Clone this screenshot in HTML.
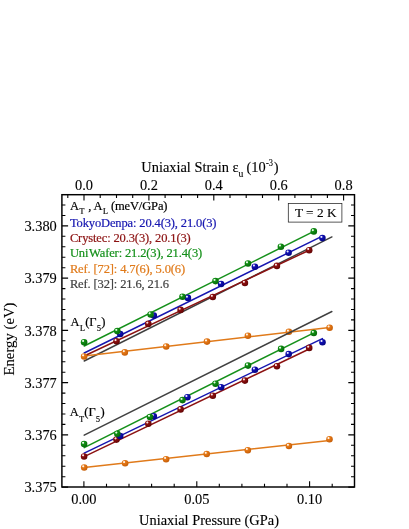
<!DOCTYPE html>
<html><head><meta charset="utf-8"><title>chart</title>
<style>
html,body{margin:0;padding:0;background:#fff;}
svg{display:block;will-change:transform;}
text{font-family:"Liberation Serif",serif;fill:#000;stroke:#000;stroke-width:0.12px;}
.lg{letter-spacing:-0.13px;stroke-width:0.2px;}
</style></head><body>
<svg width="409" height="529" viewBox="0 0 409 529">
<defs>
<radialGradient id="ggreen" cx="0.38" cy="0.36" r="0.68" fx="0.34" fy="0.30"><stop offset="0" stop-color="#e8f8e8"/><stop offset="0.12" stop-color="#e8f8e8"/><stop offset="0.32" stop-color="#109014"/><stop offset="1" stop-color="#056608"/></radialGradient>
<radialGradient id="gblue" cx="0.38" cy="0.36" r="0.68" fx="0.34" fy="0.30"><stop offset="0" stop-color="#e8e8fc"/><stop offset="0.12" stop-color="#e8e8fc"/><stop offset="0.32" stop-color="#1010b4"/><stop offset="1" stop-color="#030380"/></radialGradient>
<radialGradient id="gred" cx="0.38" cy="0.36" r="0.68" fx="0.34" fy="0.30"><stop offset="0" stop-color="#f8e4e4"/><stop offset="0.12" stop-color="#f8e4e4"/><stop offset="0.32" stop-color="#8e1010"/><stop offset="1" stop-color="#600303"/></radialGradient>
<radialGradient id="gorange" cx="0.38" cy="0.36" r="0.68" fx="0.34" fy="0.30"><stop offset="0" stop-color="#fff2e4"/><stop offset="0.12" stop-color="#fff2e4"/><stop offset="0.32" stop-color="#e67a18"/><stop offset="1" stop-color="#c45c06"/></radialGradient>
</defs>
<rect width="409" height="529" fill="#fff"/>
<line x1="84.2" y1="361.0" x2="331.9" y2="236.9" stroke="#404040" stroke-width="1.45" stroke-linecap="round"/>
<line x1="84.2" y1="356.0" x2="329.6" y2="327.5" stroke="#e07a1a" stroke-width="1.5" stroke-linecap="round"/>
<line x1="84.2" y1="356.0" x2="309.2" y2="250.2" stroke="#8c1212" stroke-width="1.5" stroke-linecap="round"/>
<line x1="84.2" y1="353.0" x2="322.4" y2="236.1" stroke="#1616b0" stroke-width="1.5" stroke-linecap="round"/>
<line x1="84.2" y1="346.0" x2="313.8" y2="231.4" stroke="#14901a" stroke-width="1.5" stroke-linecap="round"/>
<circle cx="84.1" cy="356.5" r="3.3" fill="url(#gorange)"/>
<circle cx="124.8" cy="352.4" r="3.3" fill="url(#gorange)"/>
<circle cx="166.2" cy="346.5" r="3.3" fill="url(#gorange)"/>
<circle cx="207.0" cy="341.6" r="3.3" fill="url(#gorange)"/>
<circle cx="247.9" cy="335.7" r="3.3" fill="url(#gorange)"/>
<circle cx="288.9" cy="331.8" r="3.3" fill="url(#gorange)"/>
<circle cx="329.6" cy="327.7" r="3.3" fill="url(#gorange)"/>
<circle cx="116.5" cy="341.3" r="3.3" fill="url(#gred)"/>
<circle cx="148.3" cy="323.9" r="3.3" fill="url(#gred)"/>
<circle cx="180.6" cy="309.9" r="3.3" fill="url(#gred)"/>
<circle cx="212.8" cy="297.0" r="3.3" fill="url(#gred)"/>
<circle cx="244.9" cy="283.0" r="3.3" fill="url(#gred)"/>
<circle cx="276.9" cy="265.9" r="3.3" fill="url(#gred)"/>
<circle cx="309.2" cy="250.2" r="3.3" fill="url(#gred)"/>
<circle cx="120.2" cy="334.0" r="3.3" fill="url(#gblue)"/>
<circle cx="153.8" cy="315.6" r="3.3" fill="url(#gblue)"/>
<circle cx="187.9" cy="297.9" r="3.3" fill="url(#gblue)"/>
<circle cx="221.1" cy="284.0" r="3.3" fill="url(#gblue)"/>
<circle cx="254.9" cy="266.7" r="3.3" fill="url(#gblue)"/>
<circle cx="288.6" cy="252.7" r="3.3" fill="url(#gblue)"/>
<circle cx="322.4" cy="238.1" r="3.3" fill="url(#gblue)"/>
<circle cx="84.1" cy="342.2" r="3.3" fill="url(#ggreen)"/>
<circle cx="117.3" cy="331.1" r="3.3" fill="url(#ggreen)"/>
<circle cx="150.6" cy="314.5" r="3.3" fill="url(#ggreen)"/>
<circle cx="182.5" cy="296.7" r="3.3" fill="url(#ggreen)"/>
<circle cx="215.5" cy="281.1" r="3.3" fill="url(#ggreen)"/>
<circle cx="248.0" cy="263.5" r="3.3" fill="url(#ggreen)"/>
<circle cx="280.9" cy="246.7" r="3.3" fill="url(#ggreen)"/>
<circle cx="313.8" cy="231.4" r="3.3" fill="url(#ggreen)"/>
<line x1="84.2" y1="435.2" x2="331.9" y2="311.5" stroke="#404040" stroke-width="1.45" stroke-linecap="round"/>
<line x1="84.2" y1="467.5" x2="329.5" y2="440.5" stroke="#e07a1a" stroke-width="1.5" stroke-linecap="round"/>
<line x1="84.2" y1="456.6" x2="309.2" y2="349.0" stroke="#8c1212" stroke-width="1.5" stroke-linecap="round"/>
<line x1="84.2" y1="453.1" x2="322.4" y2="338.6" stroke="#1616b0" stroke-width="1.5" stroke-linecap="round"/>
<line x1="84.2" y1="447.6" x2="313.8" y2="332.8" stroke="#14901a" stroke-width="1.5" stroke-linecap="round"/>
<circle cx="84.2" cy="467.5" r="3.3" fill="url(#gorange)"/>
<circle cx="125.1" cy="463.3" r="3.3" fill="url(#gorange)"/>
<circle cx="166.1" cy="459.2" r="3.3" fill="url(#gorange)"/>
<circle cx="206.7" cy="454.0" r="3.3" fill="url(#gorange)"/>
<circle cx="247.8" cy="450.2" r="3.3" fill="url(#gorange)"/>
<circle cx="288.9" cy="446.0" r="3.3" fill="url(#gorange)"/>
<circle cx="329.5" cy="439.3" r="3.3" fill="url(#gorange)"/>
<circle cx="84.1" cy="456.5" r="3.3" fill="url(#gred)"/>
<circle cx="116.5" cy="439.6" r="3.3" fill="url(#gred)"/>
<circle cx="148.3" cy="423.7" r="3.3" fill="url(#gred)"/>
<circle cx="180.6" cy="409.4" r="3.3" fill="url(#gred)"/>
<circle cx="212.8" cy="395.7" r="3.3" fill="url(#gred)"/>
<circle cx="244.9" cy="380.6" r="3.3" fill="url(#gred)"/>
<circle cx="276.9" cy="366.3" r="3.3" fill="url(#gred)"/>
<circle cx="309.2" cy="347.9" r="3.3" fill="url(#gred)"/>
<circle cx="120.2" cy="436.0" r="3.3" fill="url(#gblue)"/>
<circle cx="153.8" cy="416.2" r="3.3" fill="url(#gblue)"/>
<circle cx="187.4" cy="397.2" r="3.3" fill="url(#gblue)"/>
<circle cx="221.1" cy="387.2" r="3.3" fill="url(#gblue)"/>
<circle cx="254.9" cy="369.7" r="3.3" fill="url(#gblue)"/>
<circle cx="288.7" cy="354.1" r="3.3" fill="url(#gblue)"/>
<circle cx="322.5" cy="342.2" r="3.3" fill="url(#gblue)"/>
<circle cx="84.1" cy="444.0" r="3.3" fill="url(#ggreen)"/>
<circle cx="117.3" cy="433.8" r="3.3" fill="url(#ggreen)"/>
<circle cx="150.0" cy="417.0" r="3.3" fill="url(#ggreen)"/>
<circle cx="182.5" cy="400.1" r="3.3" fill="url(#ggreen)"/>
<circle cx="215.5" cy="383.7" r="3.3" fill="url(#ggreen)"/>
<circle cx="248.0" cy="365.6" r="3.3" fill="url(#ggreen)"/>
<circle cx="281.1" cy="348.9" r="3.3" fill="url(#ggreen)"/>
<circle cx="313.8" cy="333.0" r="3.3" fill="url(#ggreen)"/>
<rect x="61.9" y="194.7" width="292.6" height="292.3" fill="none" stroke="#000" stroke-width="1.45"/>
<path d="M83.9 487.0 v-5.8 M106.5 487.0 v-3.3 M129.0 487.0 v-3.3 M151.6 487.0 v-3.3 M174.2 487.0 v-3.3 M196.8 487.0 v-5.8 M219.3 487.0 v-3.3 M241.9 487.0 v-3.3 M264.5 487.0 v-3.3 M287.0 487.0 v-3.3 M309.6 487.0 v-5.8 M332.2 487.0 v-3.3 M67.8 194.7 v3.3 M84.0 194.7 v5.8 M100.2 194.7 v3.3 M116.5 194.7 v3.3 M132.7 194.7 v3.3 M148.9 194.7 v5.8 M165.1 194.7 v3.3 M181.4 194.7 v3.3 M197.6 194.7 v3.3 M213.8 194.7 v5.8 M230.0 194.7 v3.3 M246.2 194.7 v3.3 M262.5 194.7 v3.3 M278.7 194.7 v5.8 M294.9 194.7 v3.3 M311.2 194.7 v3.3 M327.4 194.7 v3.3 M343.6 194.7 v5.8 M61.9 487.1 h6.2 M354.5 487.1 h-6.2 M61.9 476.7 h3.5 M354.5 476.7 h-3.5 M61.9 466.2 h3.5 M354.5 466.2 h-3.5 M61.9 455.8 h3.5 M354.5 455.8 h-3.5 M61.9 445.3 h3.5 M354.5 445.3 h-3.5 M61.9 434.9 h6.2 M354.5 434.9 h-6.2 M61.9 424.4 h3.5 M354.5 424.4 h-3.5 M61.9 414.0 h3.5 M354.5 414.0 h-3.5 M61.9 403.5 h3.5 M354.5 403.5 h-3.5 M61.9 393.1 h3.5 M354.5 393.1 h-3.5 M61.9 382.6 h6.2 M354.5 382.6 h-6.2 M61.9 372.2 h3.5 M354.5 372.2 h-3.5 M61.9 361.7 h3.5 M354.5 361.7 h-3.5 M61.9 351.3 h3.5 M354.5 351.3 h-3.5 M61.9 340.8 h3.5 M354.5 340.8 h-3.5 M61.9 330.4 h6.2 M354.5 330.4 h-6.2 M61.9 319.9 h3.5 M354.5 319.9 h-3.5 M61.9 309.5 h3.5 M354.5 309.5 h-3.5 M61.9 299.0 h3.5 M354.5 299.0 h-3.5 M61.9 288.6 h3.5 M354.5 288.6 h-3.5 M61.9 278.1 h6.2 M354.5 278.1 h-6.2 M61.9 267.7 h3.5 M354.5 267.7 h-3.5 M61.9 257.2 h3.5 M354.5 257.2 h-3.5 M61.9 246.8 h3.5 M354.5 246.8 h-3.5 M61.9 236.3 h3.5 M354.5 236.3 h-3.5 M61.9 225.9 h6.2 M354.5 225.9 h-6.2 M61.9 215.5 h3.5 M354.5 215.5 h-3.5 M61.9 205.0 h3.5 M354.5 205.0 h-3.5" stroke="#000" stroke-width="1.1" fill="none"/>
<text x="83.9" y="504.4" font-size="14.4" text-anchor="middle">0.00</text>
<text x="196.8" y="504.4" font-size="14.4" text-anchor="middle">0.05</text>
<text x="309.6" y="504.4" font-size="14.4" text-anchor="middle">0.10</text>
<text x="84.0" y="189.8" font-size="14.4" text-anchor="middle">0.0</text>
<text x="148.9" y="189.8" font-size="14.4" text-anchor="middle">0.2</text>
<text x="213.8" y="189.8" font-size="14.4" text-anchor="middle">0.4</text>
<text x="278.7" y="189.8" font-size="14.4" text-anchor="middle">0.6</text>
<text x="343.6" y="189.8" font-size="14.4" text-anchor="middle">0.8</text>
<text x="56.8" y="492.2" font-size="14.4" text-anchor="end">3.375</text>
<text x="56.8" y="440.0" font-size="14.4" text-anchor="end">3.376</text>
<text x="56.8" y="387.7" font-size="14.4" text-anchor="end">3.377</text>
<text x="56.8" y="335.5" font-size="14.4" text-anchor="end">3.378</text>
<text x="56.8" y="283.2" font-size="14.4" text-anchor="end">3.379</text>
<text x="56.8" y="231.0" font-size="14.4" text-anchor="end">3.380</text>
<text x="141.3" y="171.6" font-size="14.4">Uniaxial Strain ε<tspan font-size="9.6" dy="5.2" dx="0">u</tspan><tspan dy="-5.2" dx="-0.3"> (10</tspan><tspan font-size="9.4" dy="-5.2" dx="0.2" textLength="7" lengthAdjust="spacingAndGlyphs">-3</tspan><tspan dy="5.2" dx="0.8">)</tspan></text>
<text x="209.0" y="524.6" font-size="14.4" text-anchor="middle">Uniaxial Pressure (GPa)</text>
<text transform="translate(14.3,339.0) rotate(-90)" font-size="14.75" text-anchor="middle">Energy (eV)</text>
<text x="69.9" y="209.6" font-size="12.5" class="lg">A<tspan font-size="8" dy="4.8" dx="0.7">T</tspan><tspan dy="-4.8" dx="0.9"> , A</tspan><tspan font-size="8" dy="4.8" dx="0.7">L</tspan><tspan dy="-4.8" dx="0.1"> (meV/GPa)</tspan></text>
<text x="69.9" y="226.8" font-size="12.5" class="lg" style="fill:#1616b0;stroke:#1616b0">TokyoDenpa: 20.4(3), 21.0(3)</text>
<text x="69.9" y="242.0" font-size="12.5" class="lg" style="fill:#8c1212;stroke:#8c1212">Crystec: 20.3(3), 20.1(3)</text>
<text x="69.9" y="257.3" font-size="12.5" class="lg" style="fill:#14901a;stroke:#14901a">Uni<tspan dx="0.8">W</tspan>afer: 21.2(3), 21.4(3)</text>
<text x="69.9" y="272.6" font-size="12.5" class="lg" style="fill:#e07a1a;stroke:#e07a1a">Ref. [72]: 4.7(6), 5.0(6)</text>
<text x="69.9" y="287.8" font-size="12.5" class="lg" style="fill:#404040;stroke:#404040">Ref. [32]: 21.6, 21.6</text>
<text x="70.6" y="325.7" font-size="12.5" class="lg">A<tspan font-size="8" dy="5.1" dx="0.6">L</tspan><tspan dy="-5.1" dx="0.4">(Γ</tspan><tspan font-size="8" dy="5.1" dx="0.6">5</tspan><tspan dy="-5.1" dx="0.4">)</tspan></text>
<text x="69.7" y="416.4" font-size="12.5" class="lg">A<tspan font-size="8" dy="5.1" dx="0.6">T</tspan><tspan dy="-5.1" dx="0.4">(Γ</tspan><tspan font-size="8" dy="5.1" dx="0.6">5</tspan><tspan dy="-5.1" dx="0.4">)</tspan></text>
<rect x="288.3" y="203.4" width="53.6" height="18.7" fill="#fff" stroke="#222" stroke-width="0.75"/>
<text x="315.7" y="216.8" font-size="13.3" text-anchor="middle">T = 2 K</text>
</svg></body></html>
